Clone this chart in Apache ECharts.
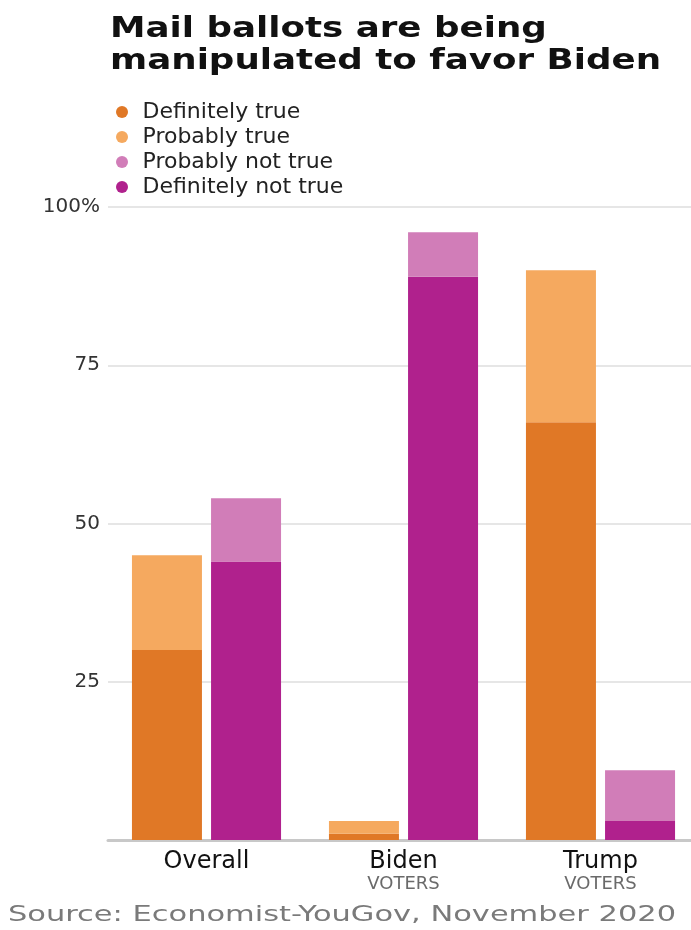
<!DOCTYPE html>
<html>
<head>
<meta charset="utf-8">
<script src="https://cdn.jsdelivr.net/npm/echarts@6/dist/echarts.min.js"></script>
<style>
  html, body { margin: 0; padding: 0; background: #fff; overflow: hidden; }
  #chart { width: 700px; height: 930px; }
</style>
</head>
<body>
<div id="chart"></div>
<script>
const groups = ['Overall', 'Biden', 'Trump'];
const groupSub = ['', 'VOTERS', 'VOTERS'];
const definitelyTrue = [30, 1, 66];
const probablyTrue = [15, 2, 24];
const definitelyNotTrue = [44, 89, 3];
const probablyNotTrue = [10, 7, 8];
const yTicks = [0, 25, 50, 75, 100];

const colors = {
  dTrue: '#E07826',
  pTrue: '#F5A95F',
  pNot: '#D17DB8',
  dNot: '#B0218D'
};

// the plot runs a little past the right edge of the window, as in the source image
const chart = echarts.init(document.getElementById('chart'), null, {renderer: 'canvas'});

const barSeries = (name, stack, data, color) => ({
  name: name,
  type: 'bar',
  stack: stack,
  barWidth: 70,
  barGap: '13%',
  itemStyle: {color: color},
  emphasis: {disabled: true},
  data: data
});

const option = {
  animation: false,
  legend: {
    orient: 'vertical',
    left: 111,
    top: 96,
    icon: 'circle',
    itemWidth: 13,
    itemHeight: 12,
    itemGap: 3,
    data: ['Definitely true', 'Probably true', 'Probably not true', 'Definitely not true'],
    textStyle: {fontFamily: 'DejaVu Sans', fontSize: 22, lineHeight: 21, color: '#222', padding: [0, 0, 0, 9]}
  },
  graphic: [{
    type: 'text',
    left: 110,
    top: 13,
    scaleX: 1.23,
    style: {
      text: 'Mail ballots are being\nmanipulated to favor Biden',
      font: 'bold 29px "DejaVu Sans"',
      lineHeight: 32,
      fill: '#111'
    }
  }, {
    type: 'text',
    left: 8,
    top: 905,
    scaleX: 1.45,
    style: {
      text: 'Source: Economist-YouGov, November 2020',
      font: '21px "DejaVu Sans"',
      fill: '#7a7a7a'
    }
  }],
  grid: {left: 108, right: 1, top: 207, bottom: 90},
  xAxis: {
    type: 'category',
    data: groups,
    axisLine: {lineStyle: {color: '#c8c8c8', width: 3}},
    axisTick: {show: false},
    axisLabel: {
      margin: 10,
      formatter: (v, i) => groupSub[i] ? '{a|' + v + '}\n{b|' + groupSub[i] + '}' : '{a|' + v + '}',
      rich: {
        a: {fontFamily: 'DejaVu Sans', fontSize: 24, color: '#111', lineHeight: 24},
        b: {fontFamily: 'DejaVu Sans', fontSize: 18, color: '#6a6a6a', lineHeight: 20}
      }
    }
  },
  yAxis: {
    type: 'value',
    min: 0,
    max: 100,
    interval: 25,
    axisLine: {show: false},
    axisTick: {show: false},
    splitLine: {lineStyle: {color: '#e6e6e6', width: 2}},
    axisLabel: {
      margin: 8,
      fontFamily: 'DejaVu Sans',
      fontSize: 20,
      color: '#333',
      formatter: v => v === 0 ? '' : (v === yTicks[yTicks.length - 1] ? v + '%' : String(v))
    }
  },
  series: [
    barSeries('Definitely true', 'true', definitelyTrue, colors.dTrue),
    barSeries('Probably true', 'true', probablyTrue, colors.pTrue),
    barSeries('Definitely not true', 'not', definitelyNotTrue, colors.dNot),
    barSeries('Probably not true', 'not', probablyNotTrue, colors.pNot)
  ]
};

chart.setOption(option);
</script>
</body>
</html>
